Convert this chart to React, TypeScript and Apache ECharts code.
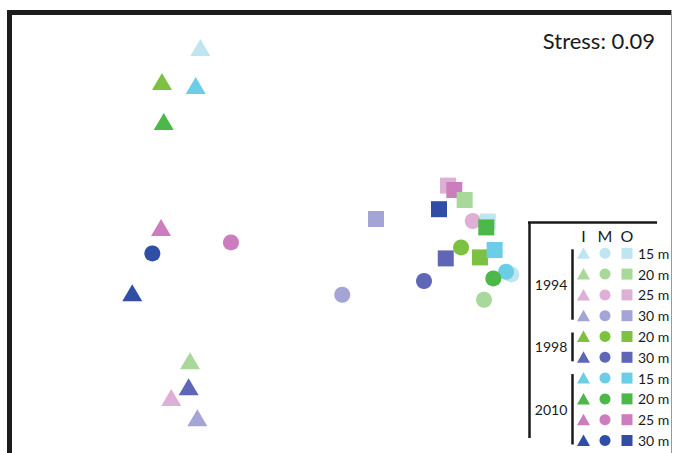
import React, { useEffect, useRef } from "react";
import * as echarts from "echarts";

// Groups: year x depth
const groupYears = ["1994", "1994", "1994", "1994", "1998", "1998", "2010", "2010", "2010", "2010"];
const groupDepths = ["15 m", "20 m", "25 m", "30 m", "20 m", "30 m", "15 m", "20 m", "25 m", "30 m"];
const groupColors = [
  "#bfe5f0", "#a9d89b", "#dfb0d6", "#a4a4d6",
  "#7cc142", "#5f66b6",
  "#6ccde6", "#4cb849", "#cc7dbd", "#2f4ea4",
];
const habitats = ["I", "M", "O"];
const yearLabels = ["1994", "1998", "2010"];

// NMDS coordinates [x, y] per group, one array per habitat
const innerPts = [
  [-0.931, 0.898], [-1.0, -0.669], [-1.125, -0.852], [-0.951, -0.954],
  [-1.187, 0.727], [-1.009, -0.799],
  [-0.962, 0.707], [-1.175, 0.527], [-1.193, -0.002], [-1.385, -0.329],
];
const middlePts = [
  [1.142, -0.237], [0.96, -0.364], [0.885, 0.03], [0.015, -0.339],
  [0.807, -0.102], [0.56, -0.27],
  [1.107, -0.224], [1.022, -0.257], [-0.727, -0.077], [-1.251, -0.132],
];
const outerPts = [
  [0.985, 0.027], [0.831, 0.135], [0.72, 0.207], [0.24, 0.04],
  [0.933, -0.152], [0.705, -0.157],
  [1.031, -0.115], [0.975, -0.002], [0.762, 0.185], [0.66, 0.089],
];
const stressValue = "0.09";

const drawOrder = [0, 2, 8, 1, 3, 4, 5, 6, 7, 9];
const FONT = "Lato, 'Liberation Sans', sans-serif";

export default function App() {
  const ref = useRef<HTMLDivElement>(null);
  useEffect(() => {
    document.body.style.margin = "0";
    const chart = echarts.init(ref.current!, null, { renderer: "svg" });

    const series = drawOrder.map((g) => ({
      type: "scatter",
      name: groupYears[g] + " " + groupDepths[g],
      silent: true,
      itemStyle: { color: groupColors[g], opacity: 1 },
      data: [
        { value: innerPts[g], symbol: "triangle", symbolSize: [20, 17] },
        { value: middlePts[g], symbol: "circle", symbolSize: 16 },
        { value: outerPts[g], symbol: "rect", symbolSize: 16 },
      ],
    }));

    // Legend graphics
    const rowY0 = 253.3;
    const rowStep = 20.8;
    const colX = [583.5, 605, 627];
    const legend: any[] = [];
    habitats.forEach((h, i) => {
      legend.push({
        type: "text",
        x: colX[i],
        y: 235,
        style: { text: h, fontSize: 16, fontFamily: FONT, fill: "#1a1a1a", align: "center", verticalAlign: "middle" },
      });
    });
    groupDepths.forEach((d, i) => {
      const y = rowY0 + i * rowStep;
      const c = groupColors[i];
      legend.push({
        type: "polygon",
        shape: { points: [[colX[0], y - 6], [colX[0] + 6.5, y + 5.5], [colX[0] - 6.5, y + 5.5]] },
        style: { fill: c },
      });
      legend.push({ type: "circle", shape: { cx: colX[1], cy: y, r: 5.5 }, style: { fill: c } });
      legend.push({ type: "rect", shape: { x: colX[2] - 5.5, y: y - 5.5, width: 11, height: 11 }, style: { fill: c } });
      legend.push({
        type: "text",
        x: 638,
        y: y,
        style: { text: d, fontSize: 14, fontFamily: FONT, fill: "#1a1a1a", align: "left", verticalAlign: "middle" },
      });
    });
    yearLabels.forEach((yr) => {
      const idx = groupYears.map((v, i) => (v === yr ? i : -1)).filter((i) => i >= 0);
      const first = idx[0];
      const last = idx[idx.length - 1];
      const yTop = rowY0 + first * rowStep - 4;
      const yBot = rowY0 + last * rowStep + 4;
      legend.push({
        type: "line",
        shape: { x1: 572.5, y1: yTop, x2: 572.5, y2: yBot },
        style: { stroke: "#1a1a1a", lineWidth: 2.5 },
      });
      legend.push({
        type: "text",
        x: 551,
        y: (yTop + yBot) / 2,
        style: { text: yr, fontSize: 14, fontFamily: FONT, fill: "#1a1a1a", align: "center", verticalAlign: "middle" },
      });
    });
    legend.push({ type: "line", shape: { x1: 528, y1: 222.5, x2: 657, y2: 222.5 }, style: { stroke: "#1a1a1a", lineWidth: 2.5 } });
    legend.push({ type: "line", shape: { x1: 529.5, y1: 222, x2: 529.5, y2: 438 }, style: { stroke: "#1a1a1a", lineWidth: 2.5 } });

    const frame: any[] = [
      { type: "rect", shape: { x: 7, y: 10, width: 665, height: 5 }, style: { fill: "#1c1c1c" } },
      { type: "rect", shape: { x: 7, y: 10, width: 5, height: 450 }, style: { fill: "#1c1c1c" } },
      { type: "line", shape: { x1: 671.5, y1: 10, x2: 671.5, y2: 453 }, style: { stroke: "#9a9a9a", lineWidth: 1 } },
      {
        type: "text",
        x: 655,
        y: 40,
        style: { text: "Stress: " + stressValue, fontSize: 22, fontFamily: FONT, fill: "#1a1a1a", align: "right", verticalAlign: "middle" },
      },
    ];

    chart.setOption({
      animation: false,
      backgroundColor: "#ffffff",
      grid: { left: 40, right: 34, top: 27, bottom: 26, containLabel: false, show: false },
      xAxis: { type: "value", min: -2, max: 2, show: false },
      yAxis: { type: "value", min: -1, max: 1, show: false },
      series,
      graphic: [...frame, ...legend],
    });
    return () => chart.dispose();
  }, []);
  return <div ref={ref} style={{ width: 674, height: 453 }} />;
}
